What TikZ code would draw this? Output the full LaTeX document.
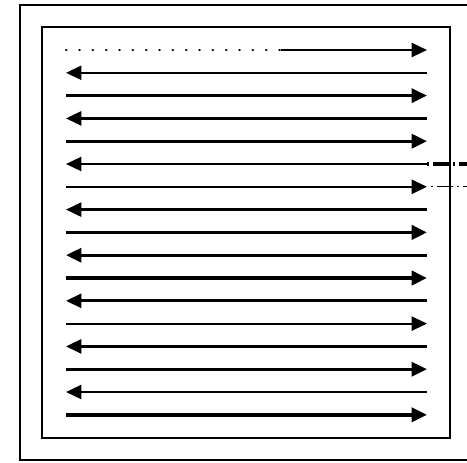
\documentclass[tikz,border=0pt]{standalone}
\usetikzlibrary{arrows.meta}
\definecolor{trazo}{HTML}{000000}

\begin{document}
\begin{tikzpicture}[x=0.75pt, y=-0.75pt,
    pasada/.style={draw=trazo, line width=#1, -{Triangle[length=11.5pt, width=10.5pt]}},
    marco/.style={draw=trazo, line width=#1},
    punteado/.style={draw=trazo, line width=2pt, line cap=round, dash pattern=on 0.3pt off 9.7pt},
    corte/.style={draw=trazo, line width=#1, dash pattern=on 1.5pt off 3pt on 12pt off 3pt}]
  \useasboundingbox (0,0) rectangle (467,462);
  % marcos
  \draw[marco=1.7pt] (20,5) rectangle (490,460);
  \draw[marco=2.1pt] (42,27) rectangle (450,438);
  % primera pasada
  \coordinate (a1) at (66,50);
  \coordinate (m1) at (281,50);
  \coordinate (b1) at (427,50);
  \draw[punteado] (a1) -- (m1);
  \draw[pasada=1.7pt] (m1) -- (b1);
  % resto de pasadas
  \foreach \i/\w in {2/1.7, 3/2.4, 4/2.0, 5/2.4, 6/1.8, 7/1.8, 8/2.0, 9/2.8,
                     10/2.4, 11/2.7, 12/2.0, 13/1.6, 14/2.0, 15/2.4, 16/1.8, 17/2.8}{
    \pgfmathsetmacro{\yy}{50+(\i-1)*22.8}
    \coordinate (a\i) at (66,\yy);
    \coordinate (b\i) at (427,\yy);
    \coordinate (c\i) at (470,\yy);
    \ifodd\i
      \draw[pasada=\w pt] (a\i) -- (b\i);
    \else
      \draw[pasada=\w pt] (b\i) -- (a\i);
    \fi
  }
  % cortes
  \draw[corte=2.8pt] (b6) -- (c6);
  \draw[corte=0.9pt] (b7) ++(4,0) -- (c7);
\end{tikzpicture}
\end{document}
